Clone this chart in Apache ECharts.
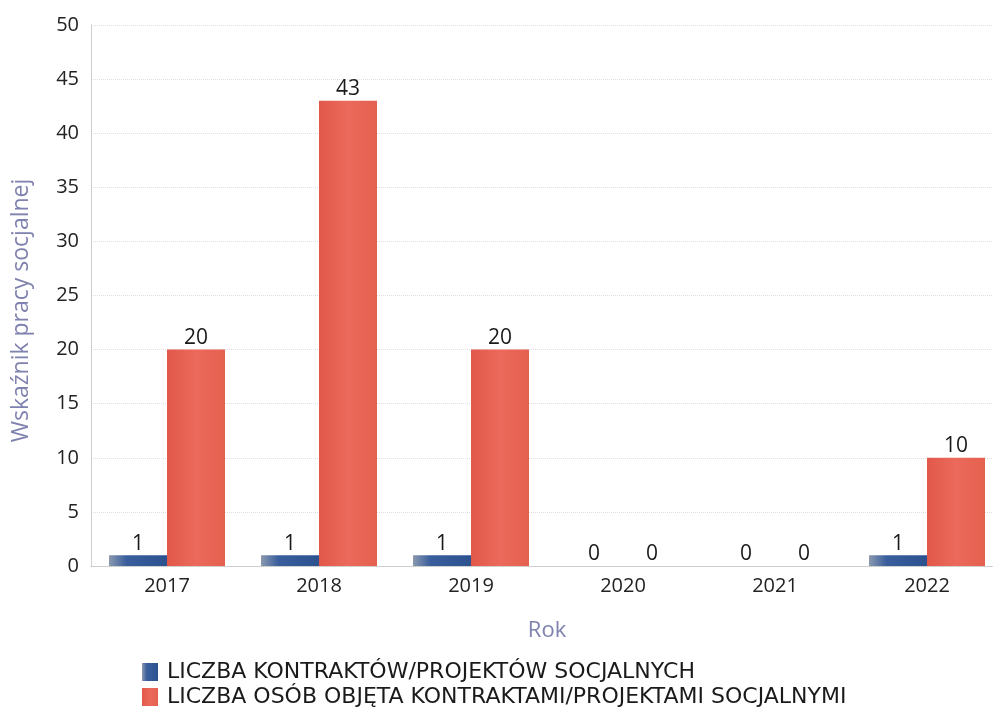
<!DOCTYPE html>
<html>
<head>
<meta charset="utf-8">
<script src="https://cdn.jsdelivr.net/npm/echarts@6/dist/echarts.min.js"></script>
<style>
  html, body { margin: 0; padding: 0; background: #fff; }
  #chart1 { width: 993px; height: 713px; }
</style>
</head>
<body>
<div id="chart1"></div>
<script>
// dane z wykresu
var lata = ['2017', '2018', '2019', '2020', '2021', '2022'];
var kontrakty = [1, 1, 1, 0, 0, 1];
var osoby = [20, 43, 20, 0, 0, 10];
var nazwy = ['LICZBA KONTRAKTÓW/PROJEKTÓW SOCJALNYCH', 'LICZBA OSÓB OBJĘTA KONTRAKTAMI/PROJEKTAMI SOCJALNYMI'];

var myChart1 = echarts.init(document.getElementById('chart1'));

var etykieta = {
    show: true,
    position: 'top',
    distance: 1,
    color: '#1a1a1a',
    fontSize: 21,
    fontFamily: 'Open Sans'
};

var option = {
    backgroundColor: '#fff',
    animation: false,
    textStyle: { fontFamily: 'Open Sans' },
    grid: {
        left: 91,
        top: 25,
        width: 912,
        height: 541,
        outerBoundsMode: 'none'
    },
    legend: {
        orient: 'vertical',
        left: 137,
        top: 656,
        itemWidth: 16,
        itemHeight: 18,
        itemGap: 3,
        icon: 'rect',
        textStyle: { fontSize: 22, color: '#1a1a1a', fontFamily: 'DejaVu Sans', lineHeight: 20, padding: [0, 0, 0, 4] },
        data: nazwy
    },
    xAxis: {
        type: 'category',
        data: lata,
        name: 'Rok',
        nameLocation: 'middle',
        nameGap: 54,
        nameTextStyle: { color: '#7f82ae', fontSize: 22 },
        axisTick: { show: false },
        axisLine: { lineStyle: { color: '#c4c4c4', width: 1, type: 'dotted' } },
        axisLabel: { color: '#222', fontSize: 20, margin: 10 }
    },
    yAxis: {
        type: 'value',
        min: 0,
        max: 50,
        interval: 5,
        name: 'Wskaźnik pracy socjalnej',
        nameLocation: 'middle',
        nameGap: 58,
        nameTextStyle: { color: '#7f82ae', fontSize: 23, padding: [0, 30, 0, 0] },
        axisLine: { show: true, lineStyle: { color: '#c4c4c4', type: 'dotted' } },
        axisTick: { show: false },
        axisLabel: { color: '#222', fontSize: 20, margin: 12 },
        splitLine: { lineStyle: { color: '#e0e0e0', type: 'dotted' } }
    },
    series: [
        {
            name: nazwy[0],
            type: 'bar',
            data: kontrakty,
            barWidth: 58,
            barGap: '0%',
            itemStyle: {
                color: new echarts.graphic.LinearGradient(0, 0, 1, 0, [
                    { offset: 0, color: '#8a98ae' },
                    { offset: 0.3, color: '#3a5f9c' },
                    { offset: 1, color: '#2b518f' }
                ])
            },
            label: etykieta
        },
        {
            name: nazwy[1],
            type: 'bar',
            data: osoby,
            barWidth: 58,
            itemStyle: {
                color: new echarts.graphic.LinearGradient(0, 0, 1, 0, [
                    { offset: 0, color: '#e2584a' },
                    { offset: 0.5, color: '#eb6a5b' },
                    { offset: 1, color: '#e5604f' }
                ])
            },
            label: etykieta
        }
    ]
};

myChart1.setOption(option);
</script>
</body>
</html>
